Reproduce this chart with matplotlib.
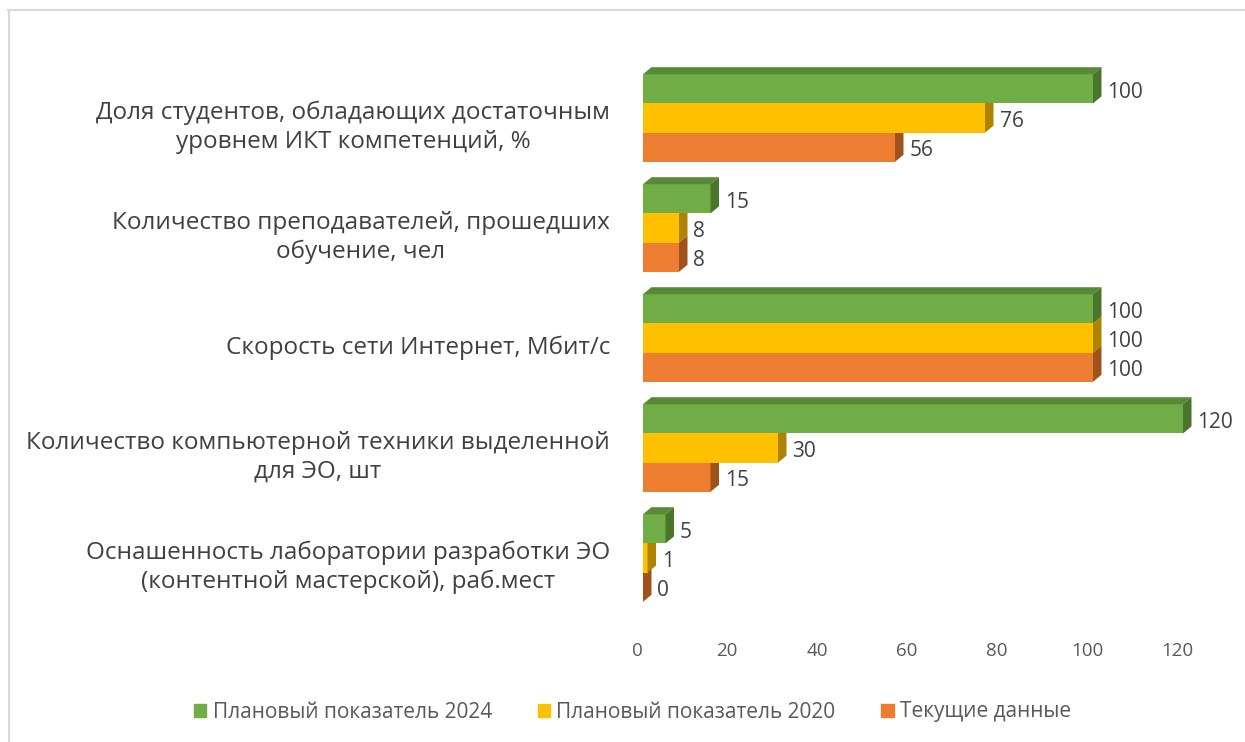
import matplotlib
matplotlib.use("Agg")
import matplotlib.pyplot as plt
from matplotlib.patches import Polygon
from matplotlib.lines import Line2D
from matplotlib.transforms import ScaledTranslation, blended_transform_factory

plt.rcParams["font.family"] = ["Open Sans", "DejaVu Sans"]

# ------------------------------------------------------------------------------
# data
categories = [
    "Доля студентов, обладающих достаточным\nуровнем ИКТ компетенций, %",
    "Количество преподавателей, прошедших\nобучение, чел",
    "Скорость сети Интернет, Мбит/с",
    "Количество компьютерной техники выделенной\nдля ЭО, шт",
    "Оснашенность лаборатории разработки ЭО\n(контентной мастерской), раб.мест",
]
series_names = ["Плановый показатель 2024", "Плановый показатель 2020", "Текущие данные"]
plan_2024 = [100, 15, 100, 120, 5]
plan_2020 = [76, 8, 100, 30, 1]
current = [56, 8, 100, 15, 0]
x_ticks = [0, 20, 40, 60, 80, 100, 120]

# ------------------------------------------------------------------------------
# styling
front_colors = ["#70ad47", "#ffc000", "#ed7d31"]
top_colors = ["#578a36", "#c99800", "#b95f22"]
side_colors = ["#4a762c", "#ad8300", "#a0521d"]
text_color = "#404040"
tick_color = "#595959"

fig = plt.figure(figsize=(12.45, 7.42), dpi=100)
W, H = 1245, 742
# x=0 at px 643, 4.5 px per unit; group centres at 118 + 110*i px
x_left, xmax = 643, 125
ax_w = xmax * 4.5
y_top_px, y_bot_px = 118 - 110 * 0.75, 118 + 110 * 4.6
ax = fig.add_axes([x_left / W, 1 - y_bot_px / H, ax_w / W, (y_bot_px - y_top_px) / H])
ax.set_xlim(0, xmax)
ax.set_ylim(4.6, -0.75)
for s in ax.spines.values():
    s.set_visible(False)

bar_h = 29.2 / 110
dx = 8.5 / 4.5      # depth offset in x units
dy = 7.0 / 110      # depth offset in y units

all_series = [plan_2024, plan_2020, current]
# draw from bottom bar upward so upper bars cover the lower ones' top faces
for k in [2, 1, 0]:
    vals = all_series[k]
    for i, v in enumerate(vals):
        top = i - 1.5 * bar_h + k * bar_h
        bot = top + bar_h
        ax.barh(top + bar_h / 2, v, height=bar_h, left=0, color=front_colors[k],
                edgecolor="none", zorder=2 + (3 - k))
        if k == 0:
            ax.add_patch(Polygon([(0, top), (v, top), (v + dx, top - dy), (dx, top - dy)],
                                 closed=True, facecolor=top_colors[k], edgecolor="none",
                                 zorder=2 + (3 - k)))
        ax.add_patch(Polygon([(v, top), (v + dx, top - dy), (v + dx, bot - dy), (v, bot)],
                             closed=True, facecolor=side_colors[k], edgecolor="none",
                             zorder=2 + (3 - k)))
        ax.annotate(str(v), xy=(v + dx, top + bar_h / 2 + 0.03), xytext=(6, 0),
                    textcoords="offset pixels", ha="left", va="center",
                    fontsize=15, color=text_color, zorder=10)

ax.set_yticks([])
ax.set_xticks(x_ticks)
ax.tick_params(axis="x", length=0, pad=13, labelsize=13.5, labelcolor=tick_color)
for lab in ax.get_xticklabels():
    lab.set_transform(lab.get_transform() + ScaledTranslation(-0.06, 0, fig.dpi_scale_trans))

# category labels
trans = blended_transform_factory(ax.transAxes, ax.transData)
for i, cat in enumerate(categories):
    ax.text(0, i + 0.085, cat, transform=trans + ScaledTranslation(-0.33, 0, fig.dpi_scale_trans),
            ha="right", va="center", multialignment="center", fontsize=17.5,
            color=text_color, linespacing=1.27)

# legend
handles = [plt.Rectangle((0, 0), 1, 1, color=c) for c in front_colors]
fig.legend(handles, series_names, loc="center", bbox_to_anchor=(0.5 + 10 / W, 1 - 712 / H),
           ncol=3, frameon=False, fontsize=15, handlelength=0.6, handleheight=0.6,
           handletextpad=0.3, columnspacing=2.2, labelcolor=tick_color)

# chart frame (cut off at right and bottom)
fig.add_artist(Line2D([8 / W, 1], [1 - 9.5 / H, 1 - 9.5 / H], color="#d9d9d9", lw=1.5))
fig.add_artist(Line2D([8.5 / W, 8.5 / W], [0, 1 - 9.5 / H], color="#d9d9d9", lw=1.5))

fig.savefig("out.png", dpi=100)
